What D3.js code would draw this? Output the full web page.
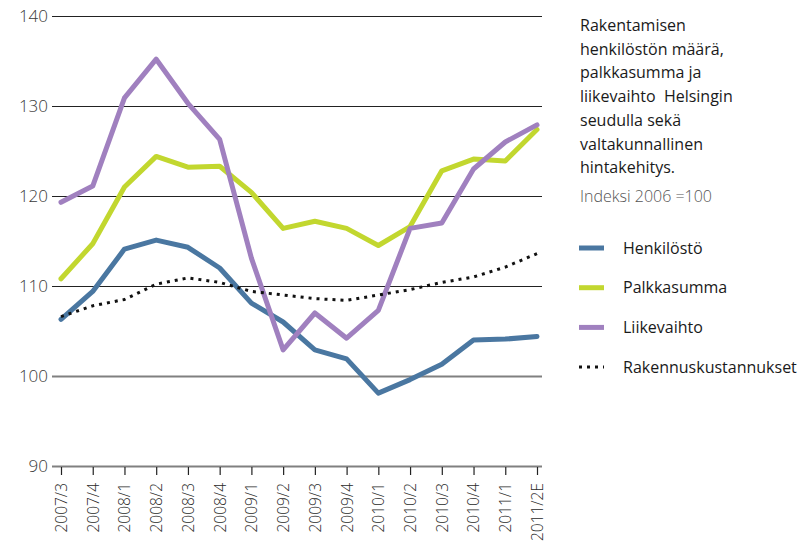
<!DOCTYPE html>
<html>
<head>
<meta charset="utf-8">
<script src="https://cdn.jsdelivr.net/npm/d3@7"></script>
<style>
  body { margin: 0; background: #fff; }
  svg text { font-family: "Open Sans", "Noto Sans", sans-serif; }
</style>
</head>
<body>
<svg id="svgId"></svg>
<script>
// neljännekset
var quarters = ["2007/3", "2007/4", "2008/1", "2008/2", "2008/3", "2008/4", "2009/1", "2009/2",
    "2009/3", "2009/4", "2010/1", "2010/2", "2010/3", "2010/4", "2011/1", "2011/2E"];
var henkilosto = [106.3, 109.4, 114.1, 115.1, 114.3, 112.0, 108.1, 106.0,
    102.9, 101.9, 98.1, 99.6, 101.3, 104.0, 104.1, 104.4];
var palkkasumma = [110.8, 114.7, 121.0, 124.4, 123.2, 123.3, 120.4, 116.4,
    117.2, 116.4, 114.5, 116.6, 122.8, 124.1, 123.9, 127.4];
var liikevaihto = [119.3, 121.1, 130.9, 135.2, 130.3, 126.3, 113.1, 102.9,
    107.0, 104.2, 107.3, 116.4, 117.0, 123.0, 126.0, 127.9];
var rakennus = [106.6, 107.8, 108.5, 110.2, 110.9, 110.4, 109.4, 109.0,
    108.6, 108.4, 109.0, 109.6, 110.4, 111.0, 112.1, 113.6];
var yTicks = [90, 100, 110, 120, 130, 140];
var titleLines = ["Rakentamisen", "henkilöstön määrä,", "palkkasumma ja",
    "liikevaihto  Helsingin", "seudulla sekä", "valtakunnallinen", "hintakehitys."];
var subtitle = "Indeksi 2006 =100";

var series = [
    { name: "Henkilöstö", values: henkilosto, color: "#4a77a1", dash: null },
    { name: "Palkkasumma", values: palkkasumma, color: "#c2d72f", dash: null },
    { name: "Liikevaihto", values: liikevaihto, color: "#a080bf", dash: null },
    { name: "Rakennuskustannukset", values: rakennus, color: "#111", dash: "3,5" }
];

var svgWidth = 803, svgHeight = 543;
var svg = d3.select("#svgId").attr("width", svgWidth).attr("height", svgHeight);

var x = d3.scalePoint().domain(quarters).range([61, 537]);
var y = d3.scaleLinear().domain([90, 140]).range([466, 16]);
var gridLeft = 52, gridRight = 542;

// vaakaviivat
svg.append("g").selectAll("line")
    .data(yTicks)
    .enter().append("line")
    .attr("x1", gridLeft).attr("x2", gridRight)
    .attr("y1", function (d) { return y(d) + 0.5; })
    .attr("y2", function (d) { return y(d) + 0.5; })
    .attr("stroke", function (d) { return d <= 100 ? "#808080" : "#222"; })
    .attr("stroke-width", function (d) { return d <= 100 ? 2 : 1.2; });

// y-akselin tekstit
svg.append("g").selectAll("text")
    .data(yTicks)
    .enter().append("text")
    .attr("x", 48)
    .attr("y", function (d) { return y(d); })
    .attr("dy", "0.35em")
    .attr("text-anchor", "end")
    .attr("font-size", 17)
    .attr("font-weight", 300)
    .attr("fill", "#3a3a3a")
    .text(function (d) { return d; });

// x-akseli
var xAxis = svg.append("g")
    .attr("transform", "translate(0,467)")
    .call(d3.axisBottom(x).tickSize(8).tickPadding(5));
xAxis.select(".domain").remove();
xAxis.selectAll(".tick line").attr("stroke", "#222").attr("stroke-width", 1.2);
xAxis.selectAll(".tick text")
    .attr("transform", "rotate(-90)")
    .attr("text-anchor", "end")
    .attr("x", -16)
    .attr("y", 0)
    .attr("dy", "0.35em")
    .attr("font-size", 15.5)
    .attr("font-weight", 300)
    .attr("fill", "#2a2a2a")
    .attr("font-family", "'Open Sans', sans-serif");

// viivat
var line = d3.line()
    .x(function (d, i) { return x(quarters[i]); })
    .y(function (d) { return y(d); });

series.forEach(function (s) {
    svg.append("path")
        .datum(s.values)
        .attr("fill", "none")
        .attr("stroke", s.color)
        .attr("stroke-width", s.dash ? 3 : 5)
        .attr("stroke-linejoin", "round")
        .attr("stroke-linecap", s.dash ? "butt" : "round")
        .attr("stroke-dasharray", s.dash)
        .attr("d", line);
});

// otsikko
var title = svg.append("text")
    .attr("x", 580).attr("y", 31)
    .attr("font-size", 16)
    .attr("fill", "#1a1a1a")
    .style("white-space", "pre");
titleLines.forEach(function (t, i) {
    title.append("tspan").attr("x", 580).attr("dy", i === 0 ? 0 : 23.7).text(t);
});
svg.append("text")
    .attr("x", 580).attr("y", 202)
    .attr("font-size", 16)
    .attr("font-weight", 300)
    .attr("fill", "#555")
    .text(subtitle);

// selite
var legend = svg.append("g").selectAll("g")
    .data(series)
    .enter().append("g")
    .attr("transform", function (d, i) { return "translate(579," + (248 + i * 39.7) + ")"; });
legend.append("line")
    .attr("x1", 0).attr("x2", 25)
    .attr("stroke", function (d) { return d.color; })
    .attr("stroke-width", function (d) { return d.dash ? 3 : 5; })
    .attr("stroke-dasharray", function (d) { return d.dash; });
legend.append("text")
    .attr("x", 44)
    .attr("dy", "0.35em")
    .attr("font-size", 16)
    .attr("fill", "#1a1a1a")
    .text(function (d) { return d.name; });
</script>
</body>
</html>
